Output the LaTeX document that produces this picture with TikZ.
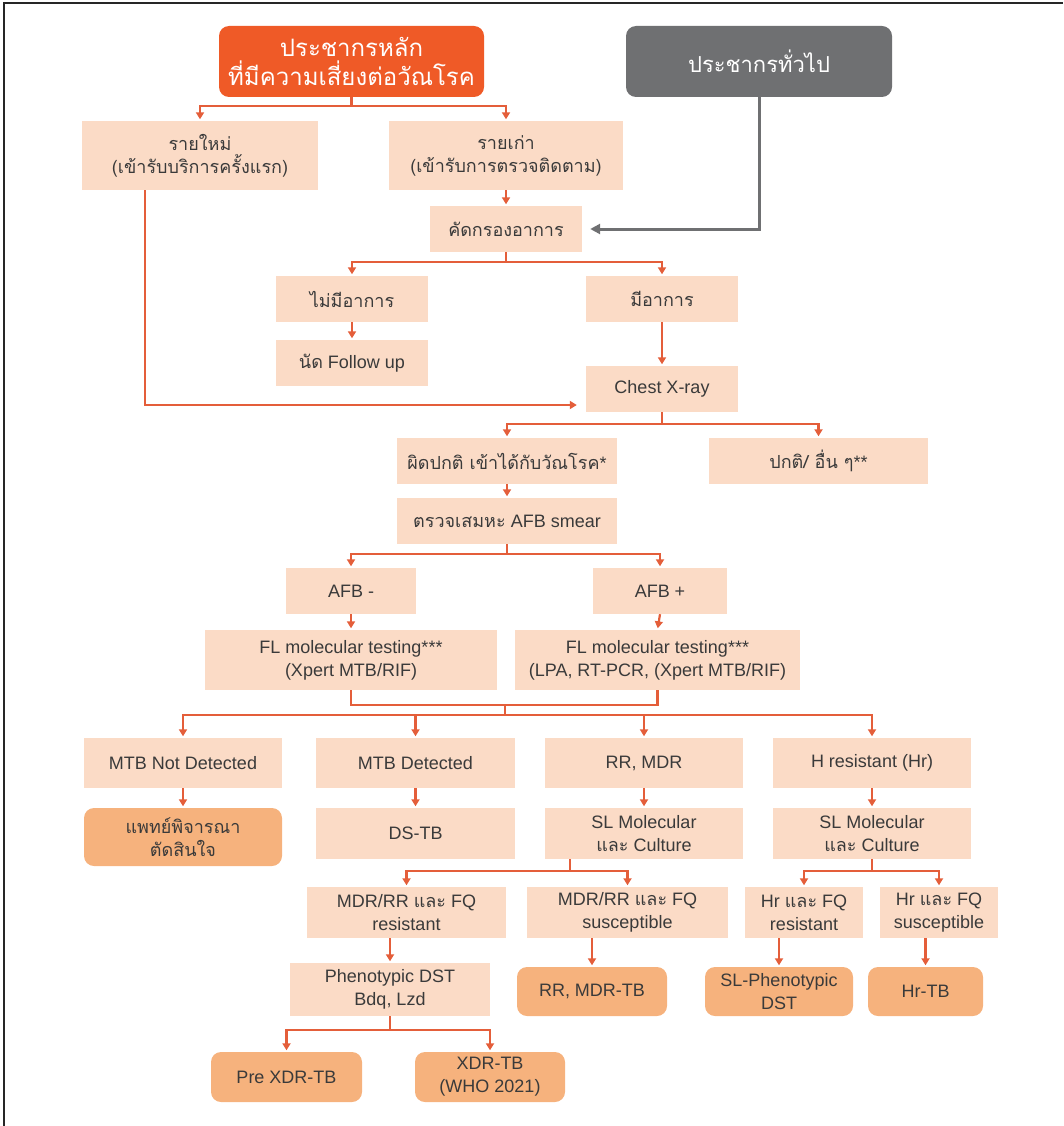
\documentclass[tikz,border=0pt]{standalone}
\usepackage{fontspec}
\setmainfont{Liberation Sans}
\newfontfamily\thaifont[Script=Thai]{Loma}
\usepackage{tikz}
\usetikzlibrary{arrows.meta}
\definecolor{coreorange}{HTML}{EF5A27}
\definecolor{generalgray}{HTML}{6F7072}
\definecolor{lightpeach}{HTML}{FBDBC6}
\definecolor{darkpeach}{HTML}{F6B27D}
\definecolor{linkred}{HTML}{E45E3A}
\definecolor{boxtext}{HTML}{3A3A3A}
\newcommand{\tth}[1]{{\thaifont #1}}

\begin{document}
\begin{tikzpicture}[x=1pt,y=-1pt]
\tikzset{
	dims/.style 2 args = {minimum width=#1, minimum height=#2},
	light box/.style = {fill=lightpeach, align=center, inner sep=0, text=boxtext, font=\fontsize{18}{23}\selectfont},
	dark box/.style = {light box, fill=darkpeach, rounded corners=10},
	core box/.style = {fill=coreorange, rounded corners=10, inner sep=0, text=white, align=center, font=\fontsize{24}{29}\selectfont},
	gray box/.style = {core box, fill=generalgray, font=\fontsize{22}{26}\selectfont},
	link/.style = {draw=linkred, line width=2.2, -{Triangle[length=7,width=8]}, shorten >=1.5},
	plain link/.style = {draw=linkred, line width=2.2},
	gray link/.style = {draw=generalgray, line width=3, -{Triangle[length=10,width=10]}, shorten >=8}
}
\useasboundingbox (0,0) rectangle (1063,1126);
\draw[line width=2, black!85] (4,1126) -- (4,3) -- (1063,3);

\node(core)[core box, dims={265}{71}] at (351.5,61.5) {\tth{ประชากรหลัก}\\\tth{ที่มีความเสี่ยงต่อวัณโรค}};
\node(general)[gray box, dims={266}{71}] at (759,61.5) {\tth{ประชากรทั่วไป}};
\node(new)[light box, dims={236}{69}] at (200,155.5) {\tth{รายใหม่}\\\tth{(เข้ารับบริการครั้งแรก)}};
\node(old)[light box, dims={234}{69}] at (506,155.5) {\tth{รายเก่า}\\\tth{(เข้ารับการตรวจติดตาม)}};
\node(screen)[light box, dims={152}{46}] at (506,229) {\tth{คัดกรองอาการ}};
\node(nosym)[light box, dims={152}{46}] at (352,299) {\tth{ไม่มีอาการ}};
\node(sym)[light box, dims={152}{46}] at (662,299) {\tth{มีอาการ}};
\node(follow)[light box, dims={152}{46}] at (352,363) {\tth{นัด} Follow up};
\node(xray)[light box, dims={152}{46}] at (662,389) {Chest X-ray};
\node(abn)[light box, dims={220}{46}] at (507,461) {\tth{ผิดปกติ เข้าได้กับวัณโรค}*};
\node(norm)[light box, dims={219}{46}] at (818.5,461) {\tth{ปกติ/ อื่น ๆ}**};
\node(smear)[light box, dims={220}{46}] at (507,521) {\tth{ตรวจเสมหะ} AFB smear};
\node(afbneg)[light box, dims={130}{46}] at (351,591) {AFB -};
\node(afbpos)[light box, dims={134}{46}] at (660,591) {AFB +};
\node(fl1)[light box, dims={292}{60}] at (351,660) {FL molecular testing***\\(Xpert MTB/RIF)};
\node(fl2)[light box, dims={285}{60}] at (657.5,660) {FL molecular testing***\\(LPA, RT-PCR, (Xpert MTB/RIF)};
\node(notdet)[light box, dims={198}{50}] at (183,763) {MTB Not Detected};
\node(det)[light box, dims={199}{50}] at (415.5,763) {MTB Detected};
\node(rr)[light box, dims={198}{50}] at (644,763) {RR, MDR};
\node(hr)[light box, dims={198}{50}] at (872,763) {H resistant (Hr)};
\node(doctor)[dark box, dims={198}{58}] at (183,837) {\tth{แพทย์พิจารณา}\\\tth{ตัดสินใจ}};
\node(dstb)[light box, dims={199}{51}] at (415.5,833.5) {DS-TB};
\node(slrr)[light box, dims={198}{51}] at (644,833.5) {SL Molecular\\\tth{และ} Culture};
\node(slhr)[light box, dims={198}{51}] at (872,833.5) {SL Molecular\\\tth{และ} Culture};
\node(mdrres)[light box, dims={199}{51}] at (406.5,912.5) {MDR/RR \tth{และ} FQ\\resistant};
\node(mdrsus)[light box, dims={201}{51}] at (627.5,912.5) {MDR/RR \tth{และ} FQ\\susceptible};
\node(hrres)[light box, dims={118}{51}] at (804,912.5) {Hr \tth{และ} FQ\\resistant};
\node(hrsus)[light box, dims={118}{51}] at (939,912.5) {Hr \tth{และ} FQ\\susceptible};
\node(pheno)[light box, dims={200}{53}] at (390,989.5) {Phenotypic DST\\Bdq, Lzd};
\node(rrmdr)[dark box, dims={150}{49}] at (592,991.5) {RR, MDR-TB};
\node(slpheno)[dark box, dims={148}{49}] at (779,991.5) {SL-Phenotypic\\DST};
\node(hrtb)[dark box, dims={115}{49}] at (925.5,991.5) {Hr-TB};
\node(prexdr)[dark box, dims={151}{50}] at (286.5,1077) {Pre XDR-TB};
\node(xdr)[dark box, dims={150}{50}] at (490,1077) {XDR-TB\\(WHO 2021)};

\coordinate(newbend) at (145,405);
\coordinate(flmerge) at (505,705);
\coordinate(flfork) at (505,715);
\coordinate(rrfork) at (570,871);

\draw[link] (core.south) -- ++(0,9) -| (new.north);
\draw[link] (core.south) -- ++(0,9) -| (old.north);
\draw[link] (old.south) -- (screen.north);
\draw[gray link] (general.south) |- (screen.east);
\draw[link] (screen.south) -- ++(0,10) -| (nosym.north);
\draw[link] (screen.south) -- ++(0,10) -| (sym.north);
\draw[link] (nosym.south) -- (follow.north);
\draw[link] (sym.south) -- (xray.north);
\draw[link, shorten >=9] (new.south -| newbend) -- (newbend) -- (xray.west |- newbend);
\draw[link] (xray.south) -- ++(0,12) -| (abn.north);
\draw[link] (xray.south) -- ++(0,12) -| (norm.north);
\draw[link] (abn.south) -- (smear.north);
\draw[link] (smear.south) -- ++(0,10) -| (afbneg.north);
\draw[link] (smear.south) -- ++(0,10) -| (afbpos.north);
\draw[link] (afbneg.south) -- (fl1.north);
\draw[link] (afbpos.south) -- (fl2.north);
\draw[plain link] (fl1.south) |- (flmerge) -| (fl2.south);
\draw[plain link] (flmerge) -- (flfork);
\foreach \n in {notdet,det,rr,hr}
	\draw[link] (flfork) -| (\n.north);
\foreach \a/\b in {notdet/doctor,det/dstb,rr/slrr,hr/slhr}
	\draw[link] (\a.south) -- (\b.north);
\draw[plain link] (slrr.south -| rrfork) -- (rrfork);
\draw[link] (rrfork) -| (mdrres.north);
\draw[link] (rrfork) -| (mdrsus.north);
\draw[link] (slhr.south) -- ++(0,12) -| (hrres.north);
\draw[link] (slhr.south) -- ++(0,12) -| (hrsus.north);
\foreach \a/\b in {mdrres/pheno,mdrsus/rrmdr,hrres/slpheno,hrsus/hrtb}
	\draw[link] (\a.south -| \b.north) -- (\b.north);
\draw[link] (pheno.south) -- ++(0,14) -| (prexdr.north);
\draw[link] (pheno.south) -- ++(0,14) -| (xdr.north);
\end{tikzpicture}
\end{document}
